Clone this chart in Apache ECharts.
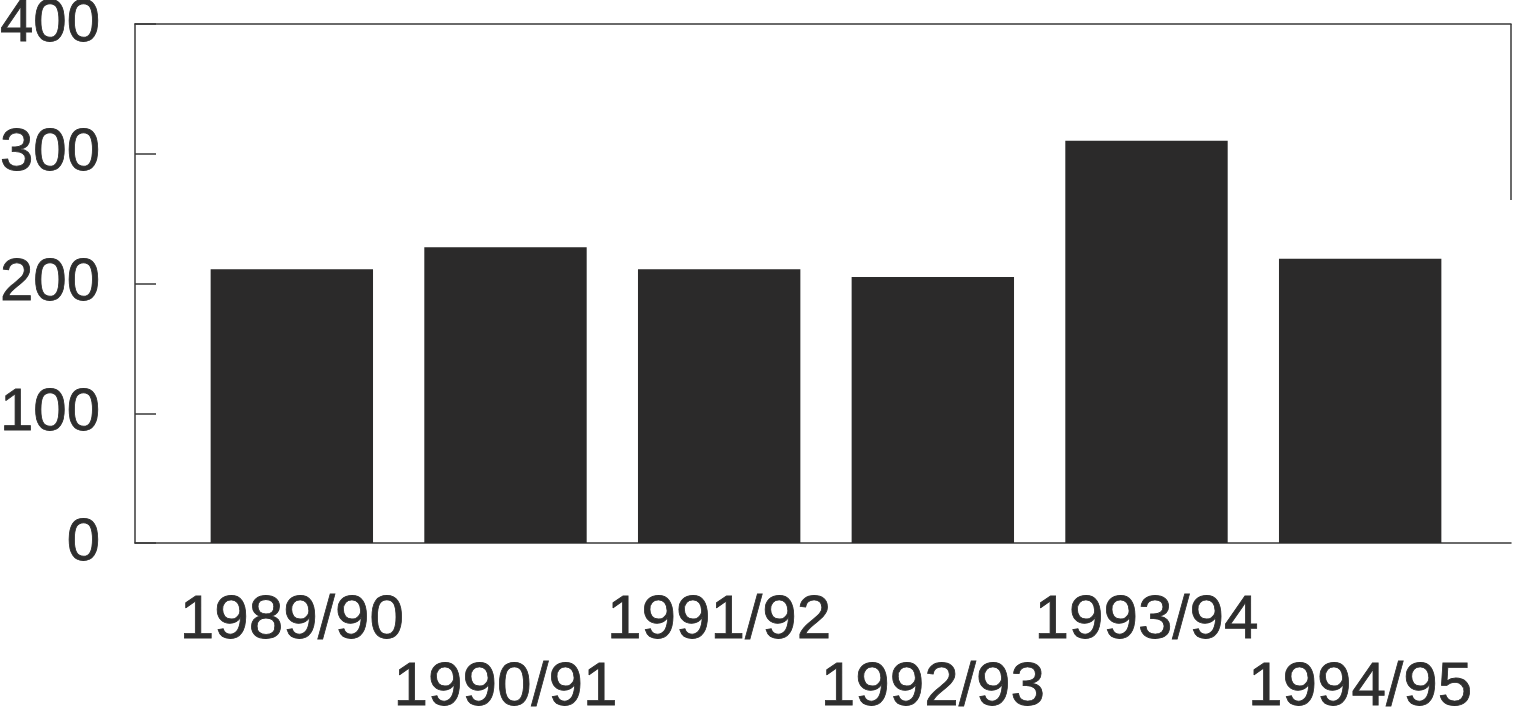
<!DOCTYPE html>
<html>
<head>
<meta charset="utf-8">
<script src="https://cdn.jsdelivr.net/npm/echarts@6/dist/echarts.min.js"></script>
<style>html,body{margin:0;padding:0;background:#fff}#c{width:1513px;height:713px}</style>
</head>
<body>
<div id="c"></div>
<script>
const categories = ['1989/90', '1990/91', '1991/92', '1992/93', '1993/94', '1994/95'];
const values = [211, 228, 211, 205, 310, 219];
const yTicks = [0, 100, 200, 300, 400];

const FONT = '"Liberation Sans", Arial, sans-serif';
const TXT = '#2e2e2e';
const LINE = '#3a3a3a';
const chart = echarts.init(document.getElementById('c'));
chart.setOption({
  animation: false,
  backgroundColor: '#fff',
  grid: [
    { left: 135, right: 2, top: 24, bottom: 170, containLabel: false, outerBoundsMode: 'none' },
    { left: 185, right: 46, top: 24, bottom: 170, containLabel: false, outerBoundsMode: 'none' }
  ],
  xAxis: [
    { gridIndex: 0, type: 'category', data: categories, position: 'bottom',
      axisLine: { lineStyle: { color: LINE, width: 1.5 } }, axisTick: { show: false }, axisLabel: { show: false } },
    { gridIndex: 0, type: 'category', data: categories, position: 'top',
      axisLine: { lineStyle: { color: LINE, width: 1.5 } }, axisTick: { show: false }, axisLabel: { show: false } },
    { gridIndex: 1, type: 'category', data: categories, position: 'bottom',
      axisLine: { show: false }, axisTick: { show: false },
      axisLabel: { interval: 0, color: TXT, fontFamily: FONT, fontSize: 62, lineHeight: 67, margin: 44,
        textBorderColor: TXT, textBorderWidth: 0.8,
        formatter: (v, i) => (i % 2 ? '\n' + v : v) } }
  ],
  yAxis: [
    { gridIndex: 0, type: 'value', min: yTicks[0], max: yTicks[yTicks.length - 1], interval: 100,
      axisLine: { show: true, lineStyle: { color: LINE, width: 1.5 } },
      axisTick: { show: true, inside: true, length: 21, lineStyle: { color: LINE, width: 1.5 } },
      splitLine: { show: false },
      axisLabel: { color: TXT, fontFamily: FONT, fontSize: 60, margin: 35,
        textBorderColor: TXT, textBorderWidth: 0.8 } },
    { gridIndex: 1, type: 'value', min: yTicks[0], max: yTicks[yTicks.length - 1], interval: 100,
      show: false, splitLine: { show: false } }
  ],
  graphic: [
    { type: 'line', shape: { x1: 1511, y1: 24, x2: 1511, y2: 200 }, style: { stroke: LINE, lineWidth: 1.5 } }
  ],
  series: [
    { type: 'bar', xAxisIndex: 2, yAxisIndex: 1, data: values, barWidth: '76%',
      itemStyle: { color: '#2b2a2a' } }
  ]
});
</script>
</body>
</html>
